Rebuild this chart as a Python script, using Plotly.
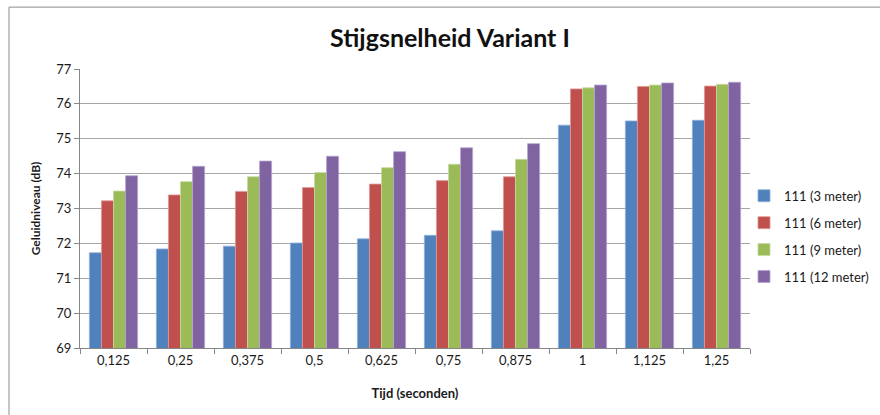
import plotly.graph_objects as go

# Tijdstappen (seconden) en geluidniveaus (dB) per meetafstand
tijd = ["0,125", "0,25", "0,375", "0,5", "0,625", "0,75", "0,875", "1", "1,125", "1,25"]
niveau_3m = [71.73, 71.84, 71.92, 72.01, 72.13, 72.23, 72.36, 75.39, 75.51, 75.53]
niveau_6m = [73.22, 73.39, 73.49, 73.60, 73.70, 73.80, 73.91, 76.43, 76.50, 76.51]
niveau_9m = [73.50, 73.77, 73.91, 74.03, 74.17, 74.27, 74.41, 76.46, 76.54, 76.56]
niveau_12m = [73.94, 74.21, 74.36, 74.50, 74.63, 74.74, 74.86, 76.54, 76.60, 76.62]

reeksen = [
    ("111 (3 meter)", niveau_3m, "#4F81BD", "#8FB0DB"),
    ("111 (6 meter)", niveau_6m, "#C0504D", "#E09A98"),
    ("111 (9 meter)", niveau_9m, "#9BBB59", "#C5DB9E"),
    ("111 (12 meter)", niveau_12m, "#8064A2", "#B7A4CF"),
]

W, H = 880, 415
ML, MR, MT, MB = 80, 130, 69, 66.5

fig = go.Figure()
for i, (naam, waarden, kleur, rand) in enumerate(reeksen):
    fig.add_trace(go.Bar(
        x=tijd, y=waarden, name=naam, legendgroup=f"g{i}",
        marker=dict(color=kleur, line=dict(color=rand, width=0.8)),
    ))

font = "Lato, 'Open Sans', sans-serif"
pw = W - ML - MR
ph = H - MT - MB


def px_x(p):
    return (p - ML) / pw


def px_y(p):
    return 1 - (p - MT) / ph


fig.update_layout(
    width=W, height=H,
    margin=dict(l=ML, r=MR, t=MT, b=MB, autoexpand=False),
    paper_bgcolor="white", plot_bgcolor="white",
    font=dict(family=font, size=13, color="#1a1a1a"),
    title=dict(text="<b>Stijgsnelheid Variant I</b>", xref="container",
               x=450 / W, xanchor="center",
               y=1 - 38 / H, yanchor="middle",
               font=dict(size=25, family=font, color="#111111")),
    barmode="group", bargap=0.28, bargroupgap=0,
    xaxis=dict(
        type="category", tickson="boundaries", ticks="outside", ticklen=5,
        tickcolor="#868686", showline=True, linecolor="#868686", linewidth=1,
        showgrid=False, tickfont=dict(size=13),
        title=dict(text="<b>Tijd (seconden)</b>", font=dict(size=13), standoff=22),
    ),
    yaxis=dict(
        range=[69, 77], dtick=1, ticks="outside", ticklen=5, tickcolor="#868686",
        showline=True, linecolor="#868686", linewidth=1,
        showgrid=True, gridcolor="#A6A6A6", gridwidth=1,
        tickfont=dict(size=13), zeroline=False,
        title=dict(text="<b>Geluidniveau (dB)</b>", font=dict(size=12), standoff=13),
    ),
    legend=dict(x=px_x(744), y=px_y(181), xanchor="left", yanchor="top",
                font=dict(size=13), tracegroupgap=7, bgcolor="rgba(0,0,0,0)"),
    shapes=[dict(type="rect", xref="paper", yref="paper",
                 x0=px_x(9), y0=px_y(H + 20), x1=px_x(W + 20), y1=px_y(7),
                 line=dict(color="#8C8C8C", width=1), fillcolor="rgba(0,0,0,0)",
                 layer="below")],
)

fig.write_html("out.html")
